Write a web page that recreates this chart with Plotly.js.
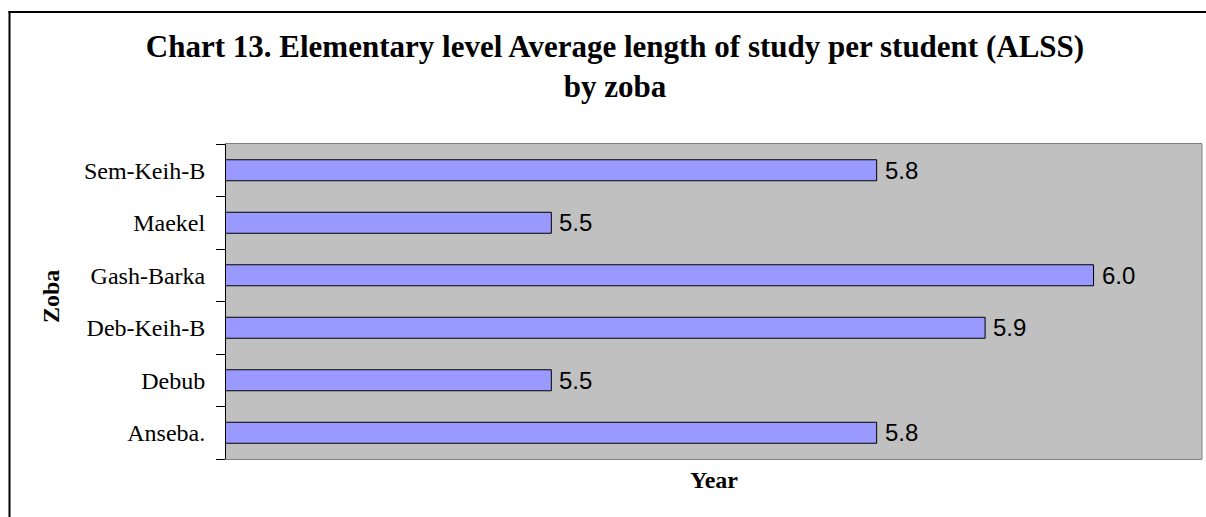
<!DOCTYPE html>
<html><head><meta charset="utf-8">
<script src="https://cdn.plot.ly/plotly-3.0.1.min.js"></script>
<style>html,body{margin:0;padding:0;background:#fff;overflow:hidden;} #chart{width:1206px;height:517px;}</style>
</head><body><div id="chart"></div>
<script>
// Data (bottom to top, as Plotly stacks categories upward)
const zobas = ['Anseba.', 'Debub', 'Deb-Keih-B', 'Gash-Barka', 'Maekel', 'Sem-Keih-B'];
const alss = [5.8, 5.5, 5.9, 6.0, 5.5, 5.8];
const chartTitle = 'Chart 13. Elementary level Average length of study per student (ALSS)<br>by zoba';
const xTitle = 'Year';
const yTitle = 'Zoba';
const xRange = [5.2, 6.1];

const W = 1206, H = 517;
const M = {l: 226, r: 4, t: 144, b: 58};
const PW = W - M.l - M.r, PH = H - M.t - M.b;
const px = x => (x - M.l) / PW;
const py = y => (H - M.b - y) / PH;

const serif = 'Liberation Serif, Times New Roman, serif';
const sans = 'Liberation Sans, Arial, sans-serif';

const trace = {
  type: 'bar',
  orientation: 'h',
  x: alss,
  y: zobas,
  marker: {color: '#9999FF', line: {color: '#000000', width: 1}},
  hoverinfo: 'none'
};

const valueLabels = zobas.map((z, i) => ({
  x: alss[i], y: z, xref: 'x', yref: 'y',
  text: alss[i].toFixed(1),
  showarrow: false, xanchor: 'left', yanchor: 'middle', xshift: 6,
  font: {family: sans, size: 24, color: '#000'}
}));

const yTitleAnn = {
  text: yTitle, xref: 'paper', yref: 'paper', x: px(51), y: py(297),
  xanchor: 'center', yanchor: 'middle', textangle: -90, showarrow: false,
  font: {family: serif, size: 24, color: '#000', weight: 'bold'}
};

const layout = {
  width: W, height: H,
  margin: M,
  paper_bgcolor: '#ffffff',
  plot_bgcolor: '#C0C0C0',
  showlegend: false,
  bargap: 0.6,
  title: {
    text: chartTitle,
    font: {family: serif, size: 31, color: '#000', weight: 'bold'},
    xref: 'paper', x: px(615), xanchor: 'center',
    yref: 'container', y: 1 - 57 / H, yanchor: 'top'
  },
  xaxis: {
    range: xRange,
    showticklabels: false,
    ticks: '',
    showgrid: false,
    zeroline: false,
    showline: true, linecolor: '#808080', linewidth: 1, mirror: true,
    title: {text: xTitle, standoff: 12, font: {family: serif, size: 24, color: '#000', weight: 'bold'}}
  },
  yaxis: {
    type: 'category',
    categoryorder: 'array', categoryarray: zobas,
    showgrid: false, zeroline: false,
    showline: true, linecolor: '#000000', linewidth: 1,
    ticks: 'outside', tickson: 'boundaries', ticklen: 9, tickcolor: '#000', tickwidth: 1,
    ticklabelstandoff: 15,
    tickfont: {family: serif, size: 24, color: '#000'}
  },
  annotations: valueLabels.concat([yTitleAnn]),
  shapes: [
    // right edge of plot area border
    {type: 'line', xref: 'paper', yref: 'paper', x0: 1, x1: 1, y0: 0, y1: 1,
     line: {color: '#808080', width: 1}},
    // outer chart frame (top and left edges visible in the crop)
    {type: 'line', xref: 'paper', yref: 'paper', x0: px(8.5), x1: px(1240), y0: py(12), y1: py(12),
     line: {color: '#000000', width: 2}},
    {type: 'line', xref: 'paper', yref: 'paper', x0: px(9.5), x1: px(9.5), y0: py(11), y1: py(540),
     line: {color: '#000000', width: 2}}
  ]
};

Plotly.newPlot('chart', [trace], layout, {displayModeBar: false, staticPlot: true});
</script>
</body></html>
